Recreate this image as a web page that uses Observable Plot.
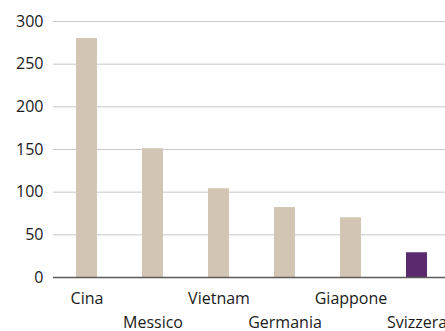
<!DOCTYPE html>
<html>
<head>
<meta charset="utf-8">
<script src="https://cdn.jsdelivr.net/npm/d3@7"></script>
<script src="https://cdn.jsdelivr.net/npm/@observablehq/plot@0.6"></script>
<style>
  html, body { margin: 0; padding: 0; background: #fff; }
  #chart svg { display: block; font-family: "Open Sans", sans-serif; }
</style>
</head>
<body>
<div id="chart"></div>
<script>
const categories = ["Cina", "Messico", "Vietnam", "Germania", "Giappone", "Svizzera"];
const values = [280, 151, 104, 82, 70, 29];
const highlight = ["Svizzera"];
const yTicks = [0, 50, 100, 150, 200, 250, 300];

const data = categories.map((c, i) => ({country: c, value: values[i], hi: highlight.includes(c)}));
const row1 = categories.filter((_, i) => i % 2 === 0);
const row2 = categories.filter((_, i) => i % 2 === 1);

const chart = Plot.plot({
  width: 445,
  height: 331,
  marginLeft: 53,
  marginRight: 0,
  marginTop: 21,
  marginBottom: 54,
  style: {fontFamily: "Open Sans, sans-serif", fontSize: "16px", color: "#1a1a1a", background: "#fff"},
  x: {type: "band", domain: categories, range: [53, 450.6], paddingInner: 0.683, paddingOuter: 0.344, axis: null},
  y: {domain: [0, 300], axis: null},
  marks: [
    Plot.ruleY(yTicks.filter(d => d > 0), {stroke: "#c8c8c8", strokeWidth: 1}),
    Plot.barY(data, {x: "country", y: "value", fill: d => d.hi ? "#5b2a6e" : "#d3c5b3"}),
    Plot.ruleY([0], {stroke: "#5a5a5a", strokeWidth: 1.3}),
    Plot.axisY(yTicks, {tickSize: 0, tickPadding: 10, fontSize: 16, fill: "#1a1a1a", label: null}),
    Plot.axisX(row1, {tickSize: 0, tickPadding: 15, fontSize: 16, fill: "#1a1a1a", label: null}),
    Plot.axisX(row2, {tickSize: 0, tickPadding: 39, fontSize: 16, fill: "#1a1a1a", label: null})
  ]
});
document.getElementById("chart").appendChild(chart);
</script>
</body>
</html>
